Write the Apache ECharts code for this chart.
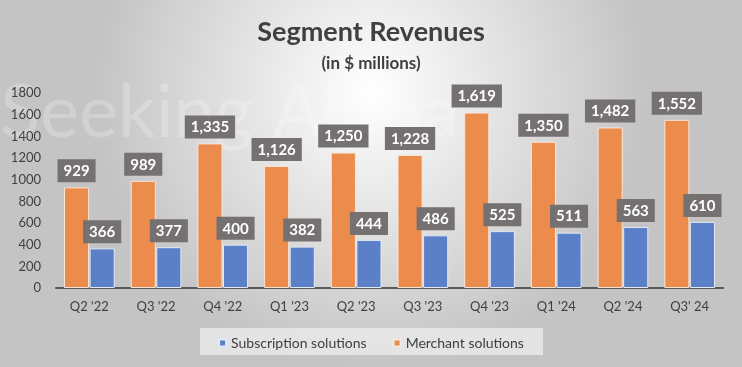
<!DOCTYPE html>
<html><head><meta charset="utf-8">
<script src="https://cdn.jsdelivr.net/npm/echarts@6/dist/echarts.min.js"></script>
<style>html,body{margin:0;padding:0;}#c{width:742px;height:367px;}</style>
</head><body><div id="c"></div>
<script>
const categories = ["Q2 '22","Q3 '22","Q4 '22","Q1 '23","Q2 '23","Q3 '23","Q4 '23","Q1 '24","Q2 '24","Q3' 24"];
const merchant = [929, 989, 1335, 1126, 1250, 1228, 1619, 1350, 1482, 1552];
const subscription = [366, 377, 400, 382, 444, 486, 525, 511, 563, 610];
const yTicks = {min: 0, max: 1800, interval: 200};

const font = 'Lato, "Open Sans", sans-serif';
const fmt = v => v.toLocaleString('en-US');
const labelStyle = {
  show: true, position: 'top', distance: 5,
  formatter: p => fmt(p.value),
  color: '#ffffff', fontWeight: 'bold', fontSize: 15, fontFamily: font,
  backgroundColor: '#767171', padding: [4, 6, 3, 6], lineHeight: 16
};
const chart = echarts.init(document.getElementById('c'));
chart.setOption({
  backgroundColor: {type: 'radial', x: 0.5, y: 0.25, r: 0.75,
    colorStops: [{offset: 0, color: '#ffffff'}, {offset: 1, color: '#c4c4c4'}]},
  animation: false,
  title: [
    {text: 'Segment Revenues', left: 'center', top: 14,
     textStyle: {fontSize: 27, fontWeight: 'bold', color: '#404040', fontFamily: font}},
    {text: '(in $ millions)', left: 'center', top: 50,
     textStyle: {fontSize: 17, fontWeight: 'bold', color: '#404040', fontFamily: font}}
  ],
  graphic: [
    {type: 'rect', left: 200, top: 328, shape: {width: 343, height: 27},
     style: {fill: 'rgba(235,235,235,0.8)'}, z: 0},
    {type: 'text', left: 0, top: 76, z: 0,
     style: {text: 'Seeking Alpha', fontSize: 74, fontFamily: font,
       fill: 'rgba(255,255,255,0.22)', letterSpacing: 14}}
  ],
  legend: {
    data: ['Subscription solutions', 'Merchant solutions'],
    left: 'center', top: 331, itemWidth: 7, itemHeight: 7, itemGap: 26,
    icon: 'rect',
    textStyle: {fontSize: 14, color: '#404040', fontFamily: font}
  },
  grid: {left: 56, right: 19, top: 93, bottom: 79, containLabel: false},
  xAxis: {
    type: 'category', data: categories,
    axisLine: {lineStyle: {color: '#595959', width: 2}},
    axisTick: {show: false},
    axisLabel: {fontSize: 13, color: '#404040', fontFamily: font, margin: 12}
  },
  yAxis: {
    type: 'value', min: yTicks.min, max: yTicks.max, interval: yTicks.interval,
    splitLine: {show: false},
    axisLine: {show: false}, axisTick: {show: false},
    axisLabel: {fontSize: 13, color: '#404040', fontFamily: font, margin: 15,
      formatter: v => String(v)}
  },
  series: [
    {name: 'Merchant solutions', type: 'bar', data: merchant, barGap: '2%', barCategoryGap: '24%',
     itemStyle: {color: '#EC8C4C', borderColor: '#f6e6dc', borderWidth: 1}, label: labelStyle, z: 2},
    {name: 'Subscription solutions', type: 'bar', data: subscription,
     itemStyle: {color: '#5B80C8', borderColor: '#e3e8f3', borderWidth: 1}, label: labelStyle, z: 2}
  ]
});
</script></body></html>
